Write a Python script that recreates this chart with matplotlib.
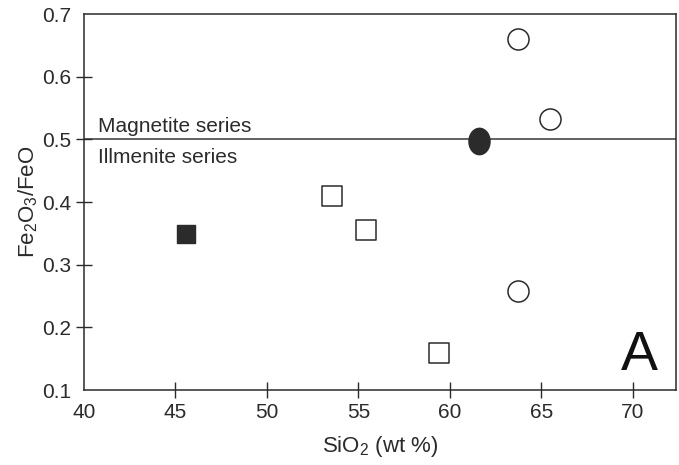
import matplotlib
matplotlib.use("Agg")
import matplotlib.pyplot as plt
from matplotlib.path import Path
from matplotlib.transforms import Affine2D

plt.rcParams['font.family'] = ['Liberation Sans', 'DejaVu Sans']
plt.rcParams['mathtext.fontset'] = 'custom'
plt.rcParams['mathtext.rm'] = 'Liberation Sans'
plt.rcParams['mathtext.default'] = 'regular'

# open squares
sq_open_x = [53.55, 55.4, 59.4]
sq_open_y = [0.410, 0.355, 0.159]
# filled square
sq_fill_x = [45.6]
sq_fill_y = [0.349]
# open circles
circ_open_x = [63.7, 65.45, 63.7]
circ_open_y = [0.660, 0.532, 0.258]
# filled ellipse
circ_fill_x = [61.6]
circ_fill_y = [0.497]

boundary = 0.5
xticks = [40, 45, 50, 55, 60, 65, 70]
yticks = [0.1, 0.2, 0.3, 0.4, 0.5, 0.6, 0.7]

ink = '#2b2b2b'

fig = plt.figure(figsize=(6.79, 4.65), dpi=100)
ax = fig.add_axes([84 / 679, 75 / 465, 592 / 679, 376 / 465])

ax.axhline(boundary, color='#555555', lw=1.3, zorder=1)

ax.scatter(sq_open_x, sq_open_y, marker='s', s=190, facecolors='white',
           edgecolors=ink, linewidths=1.1, zorder=3)
ax.scatter(sq_fill_x, sq_fill_y, marker='s', s=150, facecolors=ink,
           edgecolors=ink, linewidths=1.0, zorder=3)
ax.scatter(circ_open_x, circ_open_y, marker='o', s=230, facecolors='white',
           edgecolors=ink, linewidths=1.1, zorder=3)
oval = Path.unit_circle().transformed(Affine2D().scale(0.8, 1.0))
ax.plot(circ_fill_x, circ_fill_y, marker=oval, ms=19, color=ink,
        ls='none', zorder=4)

ax.set_xlim(40, 72.35)
ax.set_ylim(0.1, 0.7)

ax.set_xticks(xticks)
ax.set_yticks(yticks)
ax.set_xticklabels([str(v) for v in xticks])
ax.set_yticklabels([f"{v:.1f}" for v in yticks])
ax.tick_params(direction='inout', length=12, width=1.0, color=ink,
               labelsize=15, labelcolor=ink, pad=3)

# no tick marks at the axis ends
ax.xaxis.get_major_ticks()[0].tick1line.set_visible(False)
for i in (0, -1):
    ax.yaxis.get_major_ticks()[i].tick1line.set_visible(False)

for sp in ax.spines.values():
    sp.set_color(ink)
    sp.set_linewidth(1.1)

ax.text(40.75, 0.511, "Magnetite series", fontsize=15, color=ink,
        ha='left', va='baseline')
ax.text(40.75, 0.462, "Illmenite series", fontsize=15, color=ink,
        ha='left', va='baseline')
ax.text(0.939, 0.053, "A", transform=ax.transAxes, fontsize=40,
        color='#111111', ha='center', va='baseline')

ax.set_xlabel(r"SiO$_2$ (wt %)", fontsize=16, color=ink, labelpad=9)
ax.set_ylabel(r"Fe$_2$O$_3$/FeO", fontsize=16, color=ink, labelpad=2)

fig.savefig("out.png", dpi=100)
